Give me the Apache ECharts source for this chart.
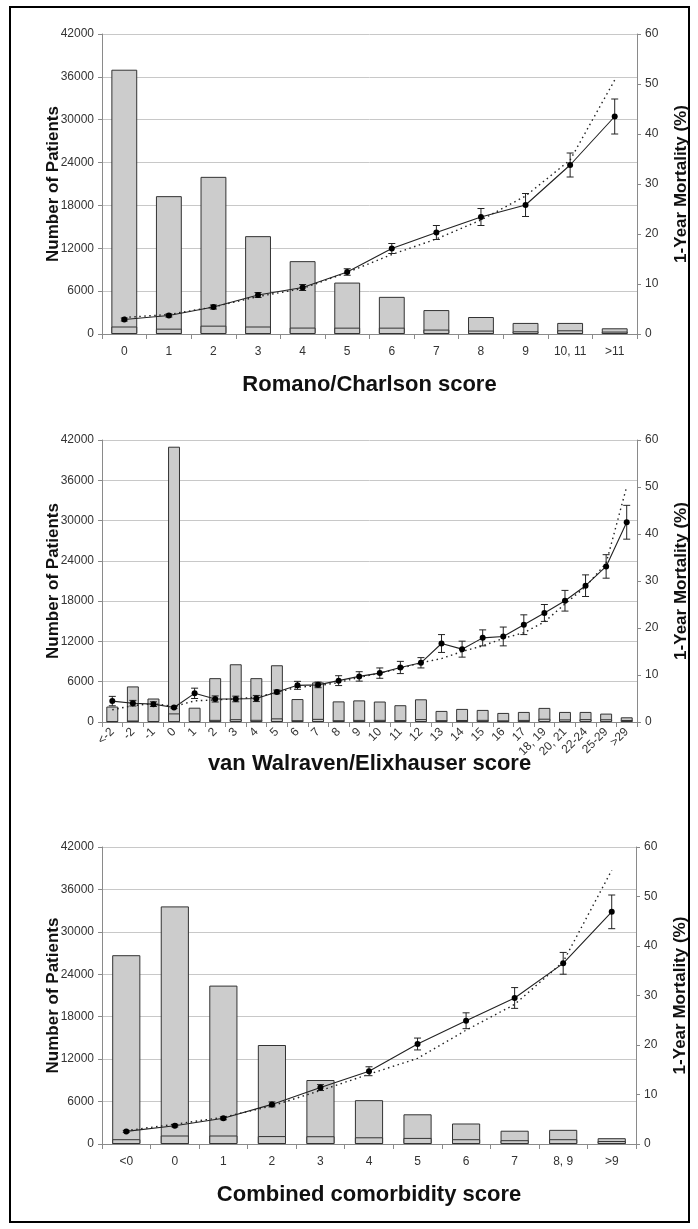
<!DOCTYPE html>
<html>
<head>
<meta charset="utf-8">
<script src="https://cdn.jsdelivr.net/npm/echarts@6/dist/echarts.min.js"></script>
<style>
html,body{margin:0;padding:0;background:#fff;}
#chart{width:698px;height:1229px;}
</style>
</head>
<body>
<div id="chart"></div>
<script>
// ---------- Panel 1: Romano/Charlson ----------
const cats1 = ['0','1','2','3','4','5','6','7','8','9','10, 11','>11'];
const patients1 = [37000,19300,22000,13700,10200,7200,5200,3350,2380,1550,1550,800];
const deaths1 = [1050,750,1170,1050,900,890,890,620,480,380,520,340];
const obs1 = [2.9,3.7,5.4,7.8,9.3,12.4,17.1,20.3,23.4,25.8,33.8,43.5];
const err1 = [0.3,0.3,0.4,0.5,0.6,0.65,1.0,1.4,1.7,2.3,2.4,3.5];
const exp1 = [3.3,3.9,5.4,7.5,9.1,12.3,15.9,19.0,22.8,27.6,34.8,50.8];

// ---------- Panel 2: van Walraven/Elixhauser ----------
const cats2 = ['<-2','-2','-1','0','1','2','3','4','5','6','7','8','9','10','11','12','13','14','15','16','17','18, 19','20, 21','22-24','25-29','>29'];
const patients2 = [2300,5300,3500,41000,2130,6530,8600,6530,8450,3420,5900,3070,3220,3050,2500,3380,1650,1950,1800,1350,1500,2100,1500,1500,1250,700];
const deaths2 = [120,220,140,1280,130,320,420,330,540,270,470,270,310,320,290,430,280,300,320,250,310,490,390,430,410,300];
const obs2 = [4.45,4.0,3.8,3.1,6.1,4.9,4.9,5.0,6.4,7.8,7.9,8.8,9.7,10.4,11.6,12.6,16.7,15.5,17.9,18.2,20.7,23.2,25.8,29.0,33.1,42.5];
const err2 = [1.0,0.6,0.5,0.2,1.1,0.65,0.6,0.65,0.4,0.85,0.6,1.05,1.0,1.1,1.3,1.1,1.9,1.7,1.7,2.0,2.1,1.8,2.2,2.3,2.5,3.6];
const exp2 = [2.6,3.5,3.9,3.3,4.5,4.7,4.9,5.3,6.3,7.4,7.7,8.4,9.5,10.4,11.4,12.6,13.5,15.0,16.2,17.8,19.0,21.3,25.1,28.8,33.8,50.1];

// ---------- Panel 3: Combined comorbidity ----------
const cats3 = ['<0','0','1','2','3','4','5','6','7','8, 9','>9'];
const patients3 = [26700,33600,22400,14000,9050,6200,4200,2900,1880,2000,820];
const deaths3 = [680,1200,1200,1120,1100,950,860,680,540,680,420];
const obs3 = [2.55,3.7,5.2,8.0,11.4,14.7,20.2,24.9,29.5,36.5,46.9];
const err3 = [0.2,0.25,0.3,0.5,0.6,0.9,1.2,1.6,2.1,2.2,3.4];
const exp3 = [2.7,4.0,5.4,7.7,10.8,14.1,17.3,23.0,28.2,36.8,55.3];

const xTitles = ['Romano/Charlson score','van Walraven/Elixhauser score','Combined comorbidity score'];
const leftTicks = {min:0, max:42000, interval:6000};
const rightTicks = {min:0, max:60, interval:10};

const panels = [
  {cats:cats1, pat:patients1, dea:deaths1, obs:obs1, err:err1, exp:exp1},
  {cats:cats2, pat:patients2, dea:deaths2, obs:obs2, err:err2, exp:exp2},
  {cats:cats3, pat:patients3, dea:deaths3, obs:obs3, err:err3, exp:exp3}
];

const FONT = "'Liberation Sans', Arial, sans-serif";
const grids = [
  {left:102, top:34, width:536, height:300},
  {left:102, top:440, width:536, height:282},
  {left:102, top:847, width:534, height:297}
];
const nameGaps = [40, 31, 40];

const gridOpt = [], xAxes = [], yAxes = [], series = [];
panels.forEach((p, i) => {
  gridOpt.push(Object.assign({containLabel:false}, grids[i]));
  xAxes.push({
    type:'category', gridIndex:i, data:p.cats,
    axisLine:{show:true, lineStyle:{color:'#8a8a8a', width:1}},
    axisTick:{show:true, alignWithLabel:false, length:5, lineStyle:{color:'#8a8a8a'}},
    axisLabel:{color:'#333', fontFamily:FONT, fontSize: 12, margin: i===1 ? 8 : 12, rotate: i===1 ? 45 : 0, interval:0},
    name: xTitles[i], nameLocation:'middle', nameGap: nameGaps[i], nameMoveOverlap:false,
    nameTextStyle:{fontFamily:FONT, fontWeight:'bold', fontSize:22, color:'#111'}
  });
  yAxes.push({
    type:'value', gridIndex:i, position:'left', min:leftTicks.min, max:leftTicks.max, interval:leftTicks.interval,
    axisLine:{show:true, lineStyle:{color:'#8a8a8a'}},
    axisTick:{show:true, length:4, lineStyle:{color:'#8a8a8a'}},
    splitLine:{show:true, lineStyle:{color:'#c8c8c8', width:1}},
    axisLabel:{color:'#333', fontFamily:FONT, fontSize:12, margin:8, formatter:(v)=>String(v)},
    name:'Number of Patients', nameLocation:'middle', nameGap:40, nameRotate:90, nameMoveOverlap:false,
    nameTextStyle:{fontFamily:FONT, fontWeight:'bold', fontSize:17, color:'#111'}
  });
  yAxes.push({
    type:'value', gridIndex:i, position:'right', min:rightTicks.min, max:rightTicks.max, interval:rightTicks.interval,
    axisLine:{show:true, lineStyle:{color:'#8a8a8a'}},
    axisTick:{show:true, length:4, lineStyle:{color:'#8a8a8a'}},
    splitLine:{show:false},
    axisLabel:{color:'#333', fontFamily:FONT, fontSize:12, margin:8, formatter:(v)=>String(v)},
    name:'1-Year Mortality (%)', nameLocation:'middle', nameGap:36, nameRotate:90, nameMoveOverlap:false,
    nameTextStyle:{fontFamily:FONT, fontWeight:'bold', fontSize:17, color:'#111'}
  });
  const barStyle = {color:'#cccccc', borderColor:'#333', borderWidth:1};
  series.push({
    type:'bar', xAxisIndex:i, yAxisIndex:2*i, data:p.pat, barWidth:'58%', barGap:'-100%',
    itemStyle:barStyle, silent:true, z:2
  });
  series.push({
    type:'bar', xAxisIndex:i, yAxisIndex:2*i, data:p.dea, barWidth:'58%', barGap:'-100%',
    itemStyle:barStyle, silent:true, z:2
  });
  series.push({
    type:'line', xAxisIndex:i, yAxisIndex:2*i+1, data:p.exp, symbol:'none',
    lineStyle:{color:'#222', width:1.4, type:[1.5,3.5]}, z:3, silent:true
  });
  series.push({
    type:'custom', xAxisIndex:i, yAxisIndex:2*i+1,
    data:p.cats.map((c, k) => [k, p.obs[k], p.err[k]]),
    encode:{x:0, y:1}, z:4, silent:true,
    renderItem:function(params, api){
      const x = api.value(0), v = api.value(1), e = api.value(2);
      const t = api.coord([x, v + e]);
      const b = api.coord([x, v - e]);
      const hw = 3.5;
      const st = {stroke:'#222', lineWidth:1};
      return {type:'group', children:[
        {type:'line', shape:{x1:t[0], y1:t[1], x2:b[0], y2:b[1]}, style:st},
        {type:'line', shape:{x1:t[0]-hw, y1:t[1], x2:t[0]+hw, y2:t[1]}, style:st},
        {type:'line', shape:{x1:b[0]-hw, y1:b[1], x2:b[0]+hw, y2:b[1]}, style:st}
      ]};
    }
  });
  series.push({
    type:'line', xAxisIndex:i, yAxisIndex:2*i+1, data:p.obs, symbol:'circle', symbolSize:6,
    itemStyle:{color:'#000'}, lineStyle:{color:'#222', width:1.1}, z:5, silent:true
  });
});

const chart = echarts.init(document.getElementById('chart'), null, {renderer:'canvas'});
chart.setOption({
  animation:false,
  backgroundColor:'#fff',
  grid:gridOpt, xAxis:xAxes, yAxis:yAxes, series:series,
  graphic:[{type:'rect', shape:{x:10, y:7, width:679, height:1215}, style:{fill:'none', stroke:'#000', lineWidth:2}, silent:true}]
});
</script>
</body>
</html>
